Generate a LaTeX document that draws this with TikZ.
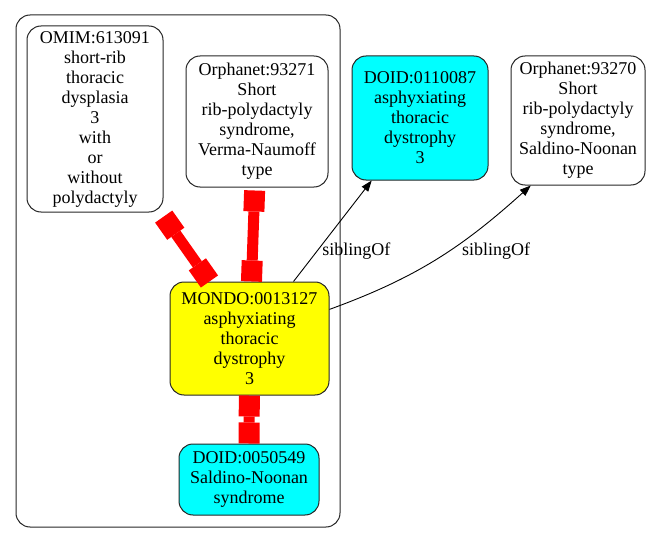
\documentclass[tikz,border=0pt]{standalone}
\usepackage{fontspec}
\setmainfont{Liberation Serif}
\usetikzlibrary{arrows.meta}
\definecolor{aquafill}{RGB}{0,255,255}
\definecolor{yellowfill}{RGB}{255,255,0}
\definecolor{linkred}{RGB}{255,0,0}

\begin{document}
\begin{tikzpicture}[x=1pt,y=1pt,line width=0.8pt,
  term/.style={draw=black!85,line width=1pt,rounded corners=14pt,align=center,inner sep=0pt,
    font=\fontsize{18}{20}\selectfont},
  lbl/.style={font=\fontsize{18}{20}\selectfont},
  redlink/.style={draw=linkred,line width=11pt,
    {Square[length=21pt,width=21pt,line width=0pt]}-{Square[length=21pt,width=21pt,line width=0pt]}},
  sib/.style={-{Triangle[length=11pt,width=8pt]},line width=0.9pt}]
\useasboundingbox (0,0) rectangle (657,-543);
% ---------- cluster ----------
\draw[draw=black!85,line width=1pt,rounded corners=14pt] (16,-15) rectangle (340,-527);
% ---------- terms ----------
\node[term,minimum width=136pt,minimum height=186pt] (omim) at (95,-119)
  {OMIM:613091\\short-rib\\thoracic\\dysplasia\\3\\with\\or\\without\\polydactyly};
\node[term,minimum width=142pt,minimum height=131pt] (orph1) at (257,-121.5)
  {Orphanet:93271\\Short\\rib-polydactyly\\syndrome,\\Verma-Naumoff\\type};
\node[term,fill=aquafill,minimum width=136pt,minimum height=124pt] (doid1) at (420,-118)
  {DOID:0110087\\asphyxiating\\thoracic\\dystrophy\\3};
\node[term,minimum width=134pt,minimum height=129pt] (orph2) at (578,-120.5)
  {Orphanet:93270\\Short\\rib-polydactyly\\syndrome,\\Saldino-Noonan\\type};
\node[term,fill=yellowfill,minimum width=159pt,minimum height=113pt] (mondo) at (249.5,-338.5)
  {MONDO:0013127\\asphyxiating\\thoracic\\dystrophy\\3};
\node[term,fill=aquafill,minimum width=140pt,minimum height=71pt] (doid2) at (249,-479.5)
  {DOID:0050549\\Saldino-Noonan\\syndrome};
% ---------- equivalence links ----------
\draw[redlink,shorten <=5pt] (omim) -- (mondo);
\draw[redlink,shorten <=3pt] (orph1) -- (mondo);
\draw[redlink] (mondo) -- (doid2);
% ---------- siblingOf ----------
\draw[sib] (mondo) -- node[lbl,pos=0.32,anchor=west,yshift=-2pt] {siblingOf} (doid1);
\draw[sib] (mondo.20) to[out=20,in=222]
  node[lbl,pos=0.6,anchor=north west,xshift=3pt,yshift=8pt] {siblingOf} (orph2.234);
\end{tikzpicture}
\end{document}
